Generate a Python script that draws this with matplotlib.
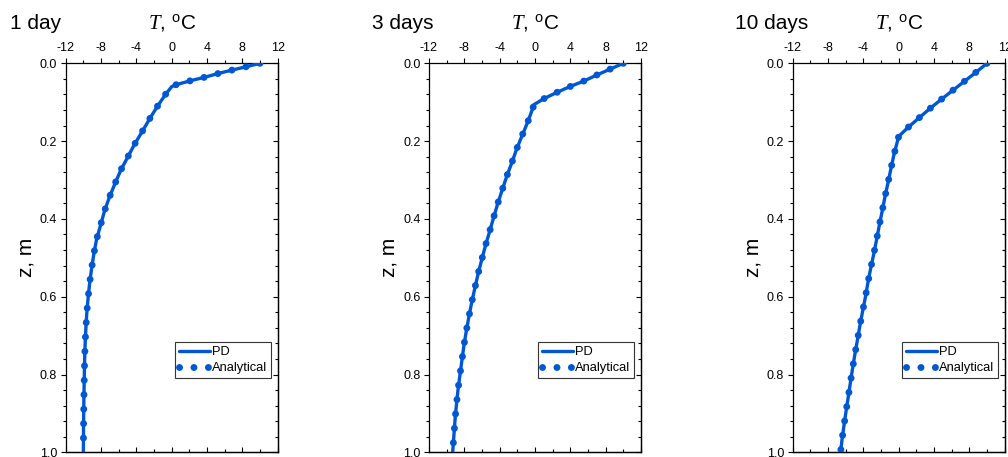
import matplotlib
matplotlib.use('Agg')
import matplotlib.pyplot as plt
from matplotlib.ticker import MultipleLocator, FormatStrFormatter

plt.rcParams['font.family'] = ['Liberation Sans', 'DejaVu Sans']
plt.rcParams['mathtext.fontset'] = 'custom'
plt.rcParams['mathtext.rm'] = 'Liberation Sans'
plt.rcParams['mathtext.it'] = 'Liberation Serif:italic'
plt.rcParams['axes.unicode_minus'] = False

# ---------------- data ----------------
titles = ['1 day', '3 days', '10 days']
x_label = r'$\mathit{T}$, $^{\rm o}$C'
y_label = 'z, m'
x_ticks = [-12, -8, -4, 0, 4, 8, 12]
y_ticks = [0.0, 0.2, 0.4, 0.6, 0.8, 1.0]

depth_1day = [0.0, 0.009, 0.017, 0.026, 0.036, 0.045, 0.055, 0.060, 0.080, 0.110,
              0.139, 0.174, 0.208, 0.242, 0.274, 0.308, 0.344, 0.379, 0.416, 0.452,
              0.488, 0.525, 0.563, 0.600, 0.638, 0.675, 0.711, 0.748, 0.786, 0.823,
              0.860, 0.897, 0.934, 1.000]
temp_pd_1day = [10.0, 8.4, 6.9, 5.3, 3.7, 2.1, 0.5, 0.0, -0.7, -1.6,
                -2.4, -3.3, -4.2, -5.0, -5.75, -6.4, -7.05, -7.6, -8.05, -8.5,
                -8.8, -9.05, -9.28, -9.45, -9.6, -9.7, -9.78, -9.84, -9.88, -9.91,
                -9.94, -9.96, -9.98, -10.0]
temp_an_1day = [10.0, 8.4, 6.9, 5.3, 3.7, 2.1, 0.5, 0.0, -0.7, -1.6,
                -2.4, -3.3, -4.2, -5.0, -5.75, -6.4, -7.05, -7.6, -8.05, -8.5,
                -8.8, -9.05, -9.28, -9.45, -9.6, -9.7, -9.78, -9.84, -9.88, -9.91,
                -9.94, -9.96, -9.98, -10.0]

depth_3days = [0.0, 0.015, 0.030, 0.045, 0.059, 0.074, 0.091, 0.106, 0.151, 0.184,
               0.220, 0.256, 0.290, 0.324, 0.360, 0.396, 0.432, 0.468, 0.504, 0.540,
               0.577, 0.613, 0.650, 0.686, 0.723, 0.763, 0.800, 0.836, 0.872, 0.910,
               0.947, 1.000]
temp_pd_3days = [10.0, 8.5, 7.0, 5.6, 4.05, 2.55, 1.0, -0.1, -0.82, -1.43,
                 -2.07, -2.63, -3.19, -3.69, -4.21, -4.68, -5.13, -5.6, -6.02, -6.43,
                 -6.8, -7.15, -7.47, -7.76, -8.03, -8.27, -8.49, -8.7, -8.87, -9.03,
                 -9.15, -9.32]
temp_an_3days = [10.0, 8.5, 7.0, 5.6, 4.05, 2.55, 1.0, -0.1, -0.82, -1.43,
                 -2.07, -2.63, -3.19, -3.69, -4.21, -4.68, -5.13, -5.6, -6.02, -6.43,
                 -6.8, -7.15, -7.47, -7.76, -8.03, -8.27, -8.49, -8.7, -8.87, -9.03,
                 -9.15, -9.32]

depth_10days = [0.0, 0.024, 0.047, 0.070, 0.094, 0.117, 0.141, 0.166, 0.188, 0.236,
                0.272, 0.308, 0.346, 0.380, 0.417, 0.454, 0.490, 0.527, 0.563, 0.600,
                0.637, 0.673, 0.711, 0.748, 0.784, 0.821, 0.859, 0.896, 0.932, 0.968,
                1.000]
temp_pd_10days = [10.0, 8.7, 7.4, 6.1, 4.75, 3.5, 2.27, 1.0, 0.0, -0.55,
                  -0.89, -1.22, -1.58, -1.87, -2.2, -2.51, -2.82, -3.17, -3.48, -3.76,
                  -4.08, -4.38, -4.67, -4.96, -5.22, -5.47, -5.72, -5.97, -6.2, -6.42,
                  -6.58]
temp_an_10days = [10.0, 8.7, 7.4, 6.1, 4.75, 3.5, 2.27, 1.0, 0.0, -0.55,
                  -0.89, -1.22, -1.58, -1.87, -2.2, -2.51, -2.82, -3.17, -3.48, -3.76,
                  -4.08, -4.38, -4.67, -4.96, -5.22, -5.47, -5.72, -5.97, -6.2, -6.42,
                  -6.58]

panels = [
    (titles[0], depth_1day, temp_pd_1day, temp_an_1day),
    (titles[1], depth_3days, temp_pd_3days, temp_an_3days),
    (titles[2], depth_10days, temp_pd_10days, temp_an_10days),
]

# ---------------- layout / style ----------------
BLUE = '#0057D3'
W, H = 1008, 457
fig = plt.figure(figsize=(W / 100, H / 100), dpi=100)

ax_lefts = [65.7, 429.0, 792.7]
ax_top, ax_bottom, ax_width = 63.3, 452.3, 212.0
title_x = [10.0, 371.7, 735.0]
title_base = 29.3

for i, (ttl, z, t_pd, t_an) in enumerate(panels):
    ax = fig.add_axes([ax_lefts[i] / W, (H - ax_bottom) / H,
                       ax_width / W, (ax_bottom - ax_top) / H])
    ax.plot(t_pd, z, color=BLUE, lw=2.4, solid_joinstyle='round',
            solid_capstyle='round', label='PD', zorder=3)
    ax.plot(t_an, z, color=BLUE, lw=5.0, linestyle=(0, (0.01, 2.07)),
            dash_capstyle='round', label='Analytical', zorder=4)

    ax.set_xlim(-12, 12)
    ax.set_ylim(1.0, 0.0)
    ax.set_xticks(x_ticks)
    ax.set_yticks(y_ticks)
    ax.xaxis.set_minor_locator(MultipleLocator(2))
    ax.yaxis.set_minor_locator(MultipleLocator(0.04))
    ax.yaxis.set_major_formatter(FormatStrFormatter('%.1f'))
    ax.xaxis.tick_top()
    ax.xaxis.set_label_position('top')
    ax.tick_params(axis='x', which='both', direction='out', top=True, bottom=False,
                   labeltop=True, labelbottom=False, labelsize=9, pad=3)
    ax.tick_params(axis='y', which='both', direction='out', left=True, right=False,
                   labelsize=9, pad=2.5)
    ax.tick_params(which='major', length=3.6, width=0.8)
    ax.tick_params(which='minor', length=2.2, width=0.8)
    for sp in ax.spines.values():
        sp.set_linewidth(0.9)

    secx = ax.secondary_xaxis('bottom')
    secx.set_xticks(x_ticks)
    secx.xaxis.set_minor_locator(MultipleLocator(2))
    secx.tick_params(which='both', direction='in', labelbottom=False, width=0.8)
    secx.tick_params(which='major', length=3.6)
    secx.tick_params(which='minor', length=2.2)
    secx.spines['bottom'].set_linewidth(0.9)

    secy = ax.secondary_yaxis('right')
    secy.set_yticks(y_ticks)
    secy.yaxis.set_minor_locator(MultipleLocator(0.04))
    secy.tick_params(which='both', direction='in', labelright=False, width=0.8)
    secy.tick_params(which='major', length=3.6)
    secy.tick_params(which='minor', length=2.2)
    secy.spines['right'].set_linewidth(0.9)

    ax.set_xlabel(x_label, fontsize=15, va='baseline')
    ax.xaxis.set_label_coords(0.5, (ax_bottom - title_base) / (ax_bottom - ax_top))
    ax.set_ylabel(y_label, fontsize=15, labelpad=3)

    leg = ax.legend(loc='upper left', bbox_to_anchor=(0.516, 0.283),
                    borderaxespad=0, fontsize=9.3, handlelength=2.4,
                    handletextpad=0.15, borderpad=0.3, labelspacing=0.3,
                    frameon=True, fancybox=False, framealpha=1,
                    edgecolor='#333333')
    leg.get_frame().set_linewidth(0.8)

    fig.text(title_x[i] / W, 1 - title_base / H, ttl, fontsize=15,
             ha='left', va='baseline')

fig.savefig('out.png', dpi=100)
